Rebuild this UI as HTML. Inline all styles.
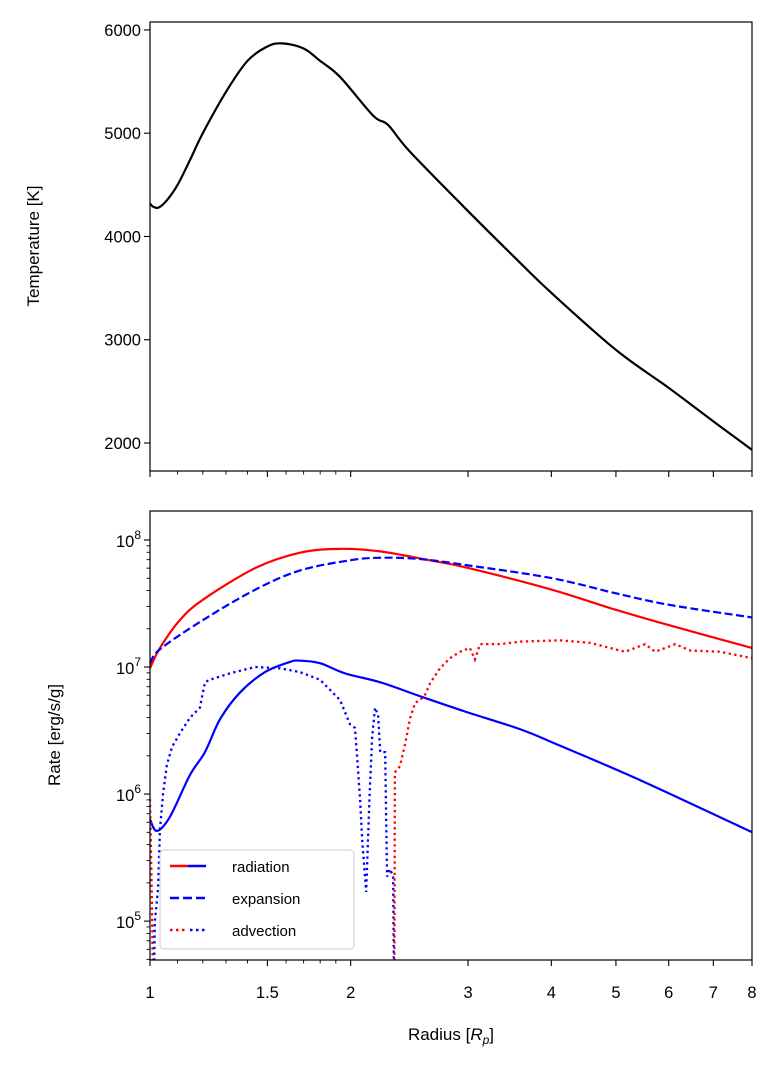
<!DOCTYPE html>
<html><head><meta charset="utf-8"><style>
body{margin:0;background:#fff}
svg{display:block;font-family:"Liberation Sans","DejaVu Sans",sans-serif}
</style></head><body>
<svg id="fig" width="780" height="1074" viewBox="0 0 780 1074" xmlns="http://www.w3.org/2000/svg">
<defs>
<clipPath id="clipTop"><rect x="150" y="22" width="602" height="449"/></clipPath>
<clipPath id="clipBot"><rect x="150" y="511" width="602" height="449"/></clipPath>
</defs>
<g id="gtop"></g>
<g id="gbot"></g>
<text x="0" y="0" font-size="17" text-anchor="middle" transform="translate(39,246) rotate(-90)">Temperature [K]</text>
<text x="0" y="0" font-size="17" text-anchor="middle" transform="translate(60,735) rotate(-90)">Rate [erg/s/g]</text>
<text x="451" y="1040" font-size="17" text-anchor="middle">Radius [<tspan font-style="italic">R</tspan><tspan font-style="italic" font-size="12" dy="4">p</tspan><tspan dy="-4">]</tspan></text>
<g id="legend">
<rect x="160" y="850" width="194" height="99" rx="4" fill="#fff" fill-opacity="0.85" stroke="#ccc" stroke-width="1"/>
<line x1="170" y1="866" x2="188" y2="866" stroke="red" stroke-width="2.5"/>
<line x1="188" y1="866" x2="206" y2="866" stroke="blue" stroke-width="2.5"/>
<text x="232" y="872" font-size="15">radiation</text>
<line x1="170" y1="898" x2="206" y2="898" stroke="blue" stroke-width="2.5" stroke-dasharray="9,4"/>
<text x="232" y="904" font-size="15">expansion</text>
<line x1="170" y1="930" x2="188" y2="930" stroke="red" stroke-width="2.5" stroke-dasharray="2.5,3.5"/>
<line x1="190" y1="930" x2="206" y2="930" stroke="blue" stroke-width="2.5" stroke-dasharray="2.5,3.5"/>
<text x="232" y="936" font-size="15">advection</text>
</g>
</svg>
<script>
const tempR = [1.0,1.01,1.03,1.06,1.1,1.15,1.2,1.3,1.4,1.5,1.58,1.7,1.8,1.928,2.162,2.276,2.456,3.019,3.593,4.0,5.0,6.0,7.0,8.0];
const tempK = [4320,4290,4280,4350,4500,4750,5000,5400,5700,5840,5870,5820,5700,5545,5170,5080,4819,4228,3744,3454,2902,2534,2210,1934];
const radR = [1.0,1.035,1.109,1.201,1.44,1.679,1.928,2.215,2.63,3.0,4.0,5.0,6.0,8.0];
const radLog = [6.99,7.15,7.37,7.53,7.78,7.90,7.93,7.91,7.84,7.78,7.61,7.45,7.33,7.15];
const expR = [1.0,1.035,1.201,1.44,1.679,1.995,2.215,2.542,3.0,4.0,5.0,6.0,8.0];
const expLog = [7.03,7.14,7.37,7.61,7.76,7.84,7.86,7.85,7.80,7.70,7.58,7.49,7.39];
const radNegR = [1.0,1.024,1.071,1.148,1.209,1.274,1.365,1.488,1.622,1.679,1.799,1.961,2.215,2.542,2.968,3.593,4.125,5.434,8.0];
const radNegLog = [5.80,5.71,5.82,6.15,6.33,6.59,6.80,6.96,7.04,7.05,7.03,6.95,6.88,6.77,6.65,6.51,6.38,6.11,5.70];
const advR = [1.0,1.003,1.007,1.010,1.014,1.017,1.028,1.035,1.046,1.060,1.079,1.109,1.148,1.188,1.209,1.230,1.318,1.437,1.567,1.679,1.799,1.928,1.995,2.030,2.044,2.066,2.081,2.110,2.134,2.154,2.176,2.199,2.215,2.253,2.268,2.292,2.316,2.322,2.326,2.330,2.371,2.413,2.456,2.500,2.542,2.585,2.630,2.722,2.819,2.918,3.019,3.072,3.127,3.352,3.593,4.125,4.573,5.160,5.530,5.726,6.136,6.459,7.165,8.0];
const advLog = [5.96,5.6,5.1,4.6,4.6,5.0,5.25,5.72,6.0,6.23,6.37,6.48,6.60,6.68,6.88,6.90,6.95,7.0,6.99,6.96,6.90,6.74,6.55,6.52,6.31,5.96,5.64,5.23,5.96,6.45,6.68,6.62,6.33,6.33,5.35,5.41,5.35,4.6,4.6,6.17,6.22,6.39,6.60,6.72,6.74,6.78,6.87,6.99,7.07,7.12,7.15,7.06,7.18,7.18,7.20,7.21,7.19,7.12,7.18,7.12,7.18,7.13,7.12,7.07];
const advSign = [1,1,1,1,-1,-1,-1,-1,-1,-1,-1,-1,-1,-1,-1,-1,-1,-1,-1,-1,-1,-1,-1,-1,-1,-1,-1,-1,-1,-1,-1,-1,-1,-1,-1,-1,-1,-1,1,1,1,1,1,1,1,1,1,1,1,1,1,1,1,1,1,1,1,1,1,1,1,1,1,1];
const xMajor = [1,1.5,2,3,4,5,6,7,8];
const xMajorLabels = ["1","1.5","2","3","4","5","6","7","8"];
const xMinor = [1.1,1.2,1.3,1.4,1.6,1.7,1.8,1.9];
const tTicks = [2000,3000,4000,5000,6000];
const rateDecades = [5,6,7,8];

const NS="http://www.w3.org/2000/svg";
const X0=150,X1=752;
const xs = r => X0 + Math.log(r)/Math.log(8)*(X1-X0);
const yT = t => 22 + (6077 - t)/(6077-1729)*449;
const yR = l => 511 + (8.228 - l)/(8.228-4.694)*449;

function mk(tag, attrs, parent){const e=document.createElementNS(NS,tag);for(const k in attrs)e.setAttribute(k,attrs[k]);parent.appendChild(e);return e;}
const gTop=document.getElementById('gtop'), gBot=document.getElementById('gbot');

function pathD(xa, ya, fx, fy){return xa.map((v,i)=>(i?'L':'M')+fx(v).toFixed(2)+','+fy(ya[i]).toFixed(2)).join('');}
function smoothD(xa, ya, fx, fy){
  const P=xa.map((v,i)=>[fx(v),fy(ya[i])]);
  let d='M'+P[0][0].toFixed(2)+','+P[0][1].toFixed(2);
  for(let i=0;i<P.length-1;i++){
    const p0=P[Math.max(0,i-1)],p1=P[i],p2=P[i+1],p3=P[Math.min(P.length-1,i+2)];
    const c1=[p1[0]+(p2[0]-p0[0])/6,p1[1]+(p2[1]-p0[1])/6];
    const c2=[p2[0]-(p3[0]-p1[0])/6,p2[1]-(p3[1]-p1[1])/6];
    d+='C'+c1[0].toFixed(2)+','+c1[1].toFixed(2)+' '+c2[0].toFixed(2)+','+c2[1].toFixed(2)+' '+p2[0].toFixed(2)+','+p2[1].toFixed(2);
  }
  return d;
}

let p=mk('path',{d:smoothD(tempR,tempK,xs,yT),fill:'none',stroke:'#000','stroke-width':2.2,'clip-path':'url(#clipTop)'},gTop);



p=mk('path',{d:smoothD(radR,radLog,xs,yR),fill:'none',stroke:'red','stroke-width':2.2,'clip-path':'url(#clipBot)'},gBot);


p=mk('path',{d:smoothD(radNegR,radNegLog,xs,yR),fill:'none',stroke:'blue','stroke-width':2.2,'clip-path':'url(#clipBot)'},gBot);


p=mk('path',{d:smoothD(expR,expLog,xs,yR),fill:'none',stroke:'blue','stroke-width':2.2,'stroke-dasharray':'8,3.5','clip-path':'url(#clipBot)'},gBot);



let seg=[], segs=[];
for(let i=0;i<advR.length;i++){
  if(seg.length && advSign[i]!==seg[0].s){segs.push(seg);seg=[];}
  seg.push({r:advR[i],l:advLog[i],s:advSign[i]});
}
segs.push(seg);
segs.forEach(s=>{
  const q=mk('path',{d:pathD(s.map(o=>o.r),s.map(o=>o.l),xs,yR),fill:'none',stroke:s[0].s>0?'red':'blue','stroke-width':2.3,'stroke-dasharray':'2.3,3.4','clip-path':'url(#clipBot)'},gBot);
  
  
});

[[gTop,22],[gBot,511]].forEach(([g,y])=>{
  const f=mk('rect',{x:150,y:y,width:602,height:449,fill:'none',stroke:'#000','stroke-width':1.2},g);
  
  
});

[[gTop,471,false],[gBot,960,true]].forEach(([g,yb,lab])=>{
  xMajor.forEach((r,i)=>{
    const x=xs(r);
    mk('line',{x1:x,x2:x,y1:yb,y2:yb+6,stroke:'#000','stroke-width':1.1},g);
    if(lab){
      const t=mk('text',{x:x,y:yb+38,'font-size':16.5,'text-anchor':'middle'},g);
      t.textContent=xMajorLabels[i];
      
      
    }
  });
  xMinor.forEach(r=>{const x=xs(r);mk('line',{x1:x,x2:x,y1:yb,y2:yb+3.5,stroke:'#000','stroke-width':0.9},g);});
});

tTicks.forEach(t=>{
  const y=yT(t);
  mk('line',{x1:144,x2:150,y1:y,y2:y,stroke:'#000','stroke-width':1.1},gTop);
  const tx=mk('text',{x:141,y:y+6,'font-size':16.5,'text-anchor':'end'},gTop);
  tx.textContent=t;
  
  
});

rateDecades.forEach(d=>{
  const y=yR(d);
  mk('line',{x1:144,x2:150,y1:y,y2:y,stroke:'#000','stroke-width':1.1},gBot);
  const tx=mk('text',{x:141,y:y+7,'font-size':16.5,'text-anchor':'end'},gBot);
  tx.innerHTML='10<tspan font-size="12" dy="-8">'+d+'</tspan>';
  
  
});
for(let d=4;d<=8;d++){for(let m=2;m<=9;m++){const l=d+Math.log10(m);if(l<4.694||l>8.228)continue;const y=yR(l);mk('line',{x1:146.5,x2:150,y1:y,y2:y,stroke:'#000','stroke-width':0.9},gBot);}}

const fig=document.getElementById('fig');
fig.appendChild(document.getElementById('legend'));
</script>
</body></html>
